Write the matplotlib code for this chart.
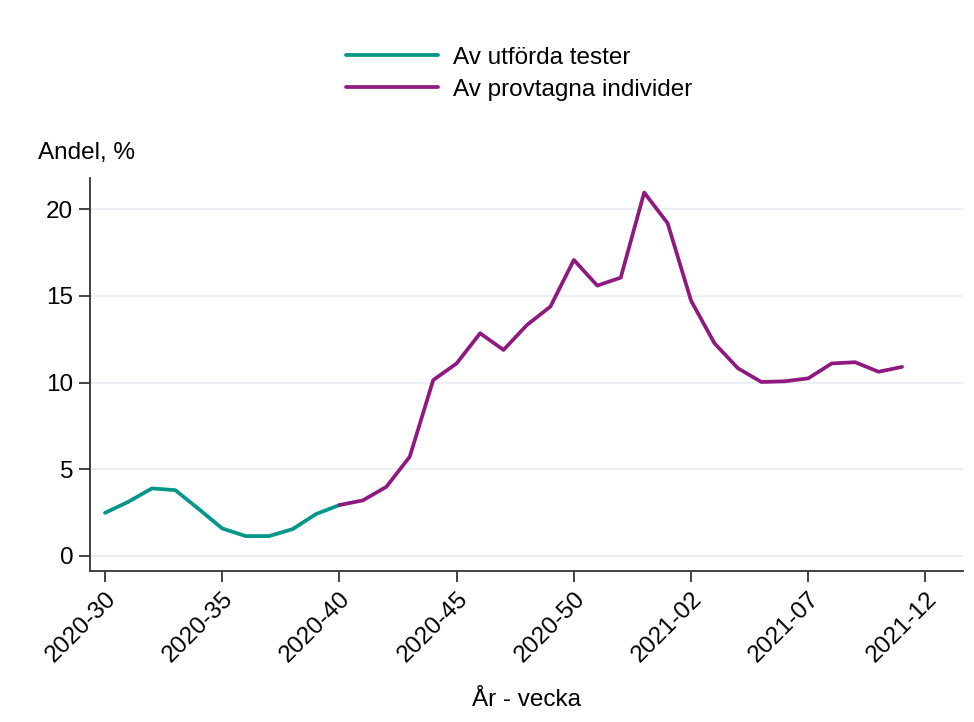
import matplotlib.pyplot as plt

plt.rcParams['font.family'] = ['Liberation Sans', 'DejaVu Sans']

# veckor 2020-30 .. 2021-11 (2020 har 53 veckor)
weeks = ['2020-%02d' % w for w in range(30, 54)] + ['2021-%02d' % w for w in range(1, 12)]
tick_labels = ['2020-30', '2020-35', '2020-40', '2020-45', '2020-50', '2021-02', '2021-07', '2021-12']

# andel positiva av utförda tester (v 30-40)
tester = [2.48, 3.12, 3.89, 3.79, 2.7, 1.58, 1.14, 1.14, 1.54, 2.41, 2.93]
# andel positiva av provtagna individer (v 40 - 2021-11)
individer = [2.93, 3.2, 3.98, 5.72, 10.14, 11.1, 12.84, 11.88, 13.32, 14.38, 17.07,
             15.59, 16.05, 20.96, 19.19, 14.72, 12.26, 10.82, 10.03, 10.07, 10.24,
             11.1, 11.17, 10.62, 10.9]

teal = '#00968a'
purple = '#8e1a80'
fs = 17.5

fig = plt.figure(figsize=(9.74, 7.22), dpi=100)
ax = fig.add_axes([0.0924, 0.209, 0.8963, 0.545])

x_t = list(range(len(tester)))
x_i = list(range(10, 10 + len(individer)))
ax.plot(x_t, tester, color=teal, lw=2.7, label='Av utförda tester', solid_capstyle='round')
ax.plot(x_i, individer, color=purple, lw=2.7, label='Av provtagna individer', solid_capstyle='round')

ax.set_xlim(-0.64, 36.6)
ax.set_ylim(-0.88, 21.82)
ax.set_yticks([0, 5, 10, 15, 20])
ax.set_xticks(range(0, 36, 5))
ax.set_xticklabels(tick_labels, rotation=45, ha='right', va='top', rotation_mode='anchor')
ax.tick_params(labelsize=fs, length=8, width=1.3, color='#333333', pad=4)
ax.grid(axis='y', color='#e8f0f4', lw=1.5)
ax.set_axisbelow(True)
for s in ['top', 'right']:
    ax.spines[s].set_visible(False)
for s in ['left', 'bottom']:
    ax.spines[s].set_color('#333333')
    ax.spines[s].set_linewidth(1.3)

fig.text(38 / 974, 1 - 153 / 722, 'Andel, %', fontsize=fs, ha='left', va='center')
fig.text(527 / 974, 1 - 700 / 722, 'År - vecka', fontsize=fs, ha='center', va='center')

fig.legend(loc='upper left', bbox_to_anchor=(324 / 974, 1 - 25 / 722), frameon=False,
           fontsize=fs, handlelength=3.8, handletextpad=0.6, labelspacing=0.4)

fig.savefig('out.png', dpi=100)
